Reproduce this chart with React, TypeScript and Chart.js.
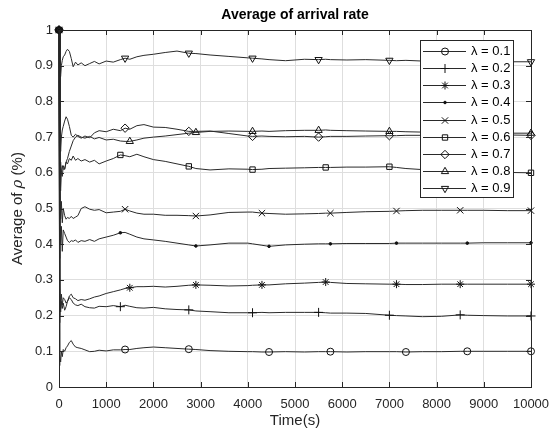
import React, { useEffect, useRef } from 'react';
import { Chart, registerables } from 'chart.js';
import { drawPoint } from 'chart.js/helpers';

Chart.register(...registerables);

// ---------------- data ----------------
const times = [0, 10, 20, 35, 50, 70, 90, 120, 150, 180, 220, 260, 300, 350, 400, 470, 550, 650, 750, 850,
  1000, 1150, 1300, 1400, 1500, 1650, 1800, 2000, 2250, 2500, 2750, 2900, 3200, 3600, 4000, 4100, 4300, 4450, 4800, 5200,
  5500, 5650, 5750, 6100, 6500, 7000, 7150, 7350, 7700, 8100, 8500, 8650, 9000, 9500, 10000];

const v01 = [1.0, 0.06, 0.09, 0.07, 0.10, 0.085, 0.105, 0.10, 0.11, 0.115, 0.125, 0.13, 0.12, 0.112, 0.11, 0.108, 0.104, 0.099, 0.10, 0.103,
  0.101, 0.104, 0.104, 0.105, 0.105, 0.108, 0.110, 0.112, 0.110, 0.108, 0.106, 0.105, 0.102, 0.100, 0.099, 0.099, 0.098, 0.098, 0.099, 0.098,
  0.099, 0.099, 0.099, 0.098, 0.099, 0.099, 0.099, 0.098, 0.099, 0.099, 0.100, 0.100, 0.100, 0.100, 0.100];
const v02 = [1.0, 0.18, 0.25, 0.21, 0.24, 0.22, 0.235, 0.215, 0.225, 0.24, 0.25, 0.245, 0.235, 0.23, 0.228, 0.232, 0.225, 0.222, 0.221, 0.226,
  0.225, 0.228, 0.225, 0.229, 0.226, 0.222, 0.221, 0.223, 0.219, 0.217, 0.216, 0.213, 0.211, 0.208, 0.208, 0.208, 0.209, 0.208, 0.209, 0.209,
  0.209, 0.208, 0.207, 0.207, 0.206, 0.201, 0.200, 0.199, 0.197, 0.198, 0.202, 0.201, 0.200, 0.199, 0.199];
const v03 = [1.0, 0.20, 0.28, 0.22, 0.26, 0.23, 0.25, 0.245, 0.235, 0.24, 0.255, 0.26, 0.25, 0.247, 0.242, 0.245, 0.243, 0.247, 0.252, 0.255,
  0.262, 0.267, 0.272, 0.276, 0.278, 0.281, 0.281, 0.282, 0.280, 0.282, 0.285, 0.286, 0.285, 0.283, 0.284, 0.285, 0.286, 0.286, 0.289, 0.291,
  0.293, 0.294, 0.293, 0.290, 0.289, 0.288, 0.288, 0.287, 0.287, 0.288, 0.288, 0.288, 0.288, 0.288, 0.288];
const v04 = [1.0, 0.36, 0.47, 0.40, 0.45, 0.38, 0.44, 0.43, 0.42, 0.41, 0.405, 0.41, 0.408, 0.412, 0.405, 0.41, 0.408, 0.413, 0.408, 0.415,
  0.42, 0.425, 0.432, 0.433, 0.428, 0.42, 0.415, 0.412, 0.408, 0.403, 0.398, 0.395, 0.398, 0.403, 0.403, 0.401, 0.397, 0.394, 0.398, 0.400,
  0.401, 0.401, 0.401, 0.402, 0.402, 0.402, 0.403, 0.403, 0.403, 0.403, 0.403, 0.403, 0.404, 0.404, 0.404];
const v05 = [1.0, 0.42, 0.55, 0.47, 0.52, 0.46, 0.50, 0.48, 0.47, 0.475, 0.472, 0.478, 0.472, 0.476, 0.48, 0.50, 0.505, 0.498, 0.495, 0.497,
  0.488, 0.49, 0.492, 0.498, 0.493, 0.487, 0.484, 0.484, 0.481, 0.481, 0.480, 0.479, 0.482, 0.489, 0.490, 0.490, 0.487, 0.486, 0.484, 0.485,
  0.486, 0.487, 0.487, 0.489, 0.491, 0.492, 0.493, 0.494, 0.495, 0.495, 0.495, 0.495, 0.495, 0.494, 0.494];
const v06 = [1.0, 0.52, 0.58, 0.55, 0.60, 0.59, 0.62, 0.61, 0.63, 0.625, 0.64, 0.635, 0.647, 0.635, 0.64, 0.633, 0.637, 0.63, 0.635, 0.625,
  0.633, 0.64, 0.65, 0.648, 0.645, 0.652, 0.645, 0.637, 0.632, 0.625, 0.618, 0.612, 0.608, 0.611, 0.610, 0.609, 0.610, 0.612, 0.613, 0.614,
  0.615, 0.615, 0.615, 0.616, 0.616, 0.617, 0.615, 0.612, 0.609, 0.606, 0.604, 0.603, 0.602, 0.601, 0.600];
const v07 = [1.0, 0.68, 0.72, 0.66, 0.70, 0.72, 0.73, 0.745, 0.757, 0.75, 0.73, 0.705, 0.70, 0.708, 0.702, 0.697, 0.703, 0.698, 0.712, 0.718,
  0.715, 0.722, 0.718, 0.725, 0.722, 0.732, 0.735, 0.728, 0.727, 0.722, 0.716, 0.716, 0.717, 0.710, 0.703, 0.702, 0.703, 0.702, 0.701, 0.702,
  0.700, 0.701, 0.702, 0.702, 0.703, 0.704, 0.704, 0.705, 0.705, 0.706, 0.706, 0.705, 0.706, 0.706, 0.705];
const v08 = [1.0, 0.62, 0.58, 0.63, 0.60, 0.62, 0.61, 0.61, 0.63, 0.64, 0.66, 0.675, 0.69, 0.70, 0.705, 0.70, 0.697, 0.702, 0.695, 0.699,
  0.692, 0.694, 0.689, 0.688, 0.688, 0.692, 0.697, 0.700, 0.703, 0.707, 0.711, 0.713, 0.716, 0.717, 0.716, 0.716, 0.717, 0.716, 0.718, 0.719,
  0.719, 0.720, 0.719, 0.718, 0.717, 0.716, 0.716, 0.715, 0.714, 0.713, 0.712, 0.712, 0.712, 0.711, 0.711];
const v09 = [1.0, 0.86, 0.89, 0.87, 0.90, 0.915, 0.925, 0.93, 0.94, 0.946, 0.94, 0.92, 0.897, 0.91, 0.902, 0.908, 0.900, 0.906, 0.912, 0.905,
  0.913, 0.910, 0.917, 0.921, 0.918, 0.925, 0.929, 0.932, 0.937, 0.941, 0.935, 0.934, 0.930, 0.926, 0.922, 0.921, 0.919, 0.917, 0.914, 0.918,
  0.917, 0.918, 0.917, 0.916, 0.917, 0.915, 0.914, 0.915, 0.913, 0.913, 0.912, 0.912, 0.912, 0.911, 0.911];

// indices of samples that carry a marker
const m01 = [0, 23, 30, 37, 42, 47, 51, 54];
const m02 = [0, 22, 30, 35, 40, 45, 50, 54];
const m03 = [0, 24, 31, 36, 41, 46, 50, 54];
const m04 = [0, 22, 31, 37, 42, 46, 51, 54];
const m05 = [0, 23, 31, 36, 42, 46, 50, 54];
const m06 = [0, 22, 30, 35, 41, 45, 50, 54];
const m07 = [0, 23, 30, 35, 40, 45, 50, 54];
const m08 = [0, 24, 31, 35, 40, 45, 50, 54];
const m09 = [0, 23, 30, 35, 40, 45, 50, 54];

const seriesLabels = ['λ = 0.1', 'λ = 0.2', 'λ = 0.3', 'λ = 0.4', 'λ = 0.5', 'λ = 0.6', 'λ = 0.7', 'λ = 0.8', 'λ = 0.9'];
const xTickLabels = ['0', '1000', '2000', '3000', '4000', '5000', '6000', '7000', '8000', '9000', '10000'];
const yTickLabels = ['0', '0.1', '0.2', '0.3', '0.4', '0.5', '0.6', '0.7', '0.8', '0.9', '1'];
const titleText = 'Average of arrival rate';
const xTitleText = 'Time(s)';
const yTitleParts = ['Average of ', 'ρ', ' (%)'];

// ---------------- styles ----------------
const FONT = "'Liberation Sans', Arial, Helvetica, sans-serif";
const LINE = '#2a2a2a';
const AXIS = '#262626';
const markerStyles = [
  { pointStyle: 'circle', radius: 3.5, fill: false, rotation: 0 },
  { pointStyle: 'cross', radius: 4.5, fill: false, rotation: 0 },
  { pointStyle: 'star', radius: 4, fill: false, rotation: 0 },
  { pointStyle: 'circle', radius: 1.3, fill: true, rotation: 0 },
  { pointStyle: 'crossRot', radius: 4.5, fill: false, rotation: 0 },
  { pointStyle: 'rect', radius: 3.8, fill: false, rotation: 0 },
  { pointStyle: 'rectRot', radius: 4.2, fill: false, rotation: 0 },
  { pointStyle: 'triangle', radius: 4.2, fill: false, rotation: 0 },
  { pointStyle: 'triangle', radius: 4.2, fill: false, rotation: 180 },
];

const allValues = [v01, v02, v03, v04, v05, v06, v07, v08, v09];
const allMarkers = [m01, m02, m03, m04, m05, m06, m07, m08, m09];

const decorPlugin = {
  id: 'decor',
  afterDatasetsDraw(chart: any) {
    const { ctx, chartArea } = chart;
    const { left, right, top, bottom } = chartArea;
    const xs = chart.scales.x;
    const ys = chart.scales.y;
    ctx.save();
    // inner ticks
    ctx.strokeStyle = AXIS;
    ctx.lineWidth = 1;
    ctx.beginPath();
    xs.ticks.forEach((t: any) => {
      const px = Math.round(xs.getPixelForValue(t.value)) + 0.5;
      ctx.moveTo(px, bottom);
      ctx.lineTo(px, bottom - 5);
      ctx.moveTo(px, top);
      ctx.lineTo(px, top + 5);
    });
    ys.ticks.forEach((t: any) => {
      const py = Math.round(ys.getPixelForValue(t.value)) + 0.5;
      ctx.moveTo(left, py);
      ctx.lineTo(left + 5, py);
      ctx.moveTo(right, py);
      ctx.lineTo(right - 5, py);
    });
    ctx.stroke();
    // box
    ctx.strokeRect(Math.round(left) + 0.5, Math.round(top) + 0.5, Math.round(right - left), Math.round(bottom - top));

    // title
    ctx.fillStyle = '#000';
    ctx.textAlign = 'center';
    ctx.textBaseline = 'middle';
    ctx.font = `bold 14px ${FONT}`;
    ctx.fillText(titleText, (left + right) / 2, 15);

    // x title
    ctx.fillStyle = AXIS;
    ctx.font = `15px ${FONT}`;
    ctx.fillText(xTitleText, (left + right) / 2, 421);

    // y title (with italic rho)
    ctx.save();
    ctx.translate(18, (top + bottom) / 2);
    ctx.rotate(-Math.PI / 2);
    const fonts = [`15px ${FONT}`, `italic 15px 'DejaVu Serif', 'Liberation Serif', serif`, `15px ${FONT}`];
    const widths = yTitleParts.map((p, i) => { ctx.font = fonts[i]; return ctx.measureText(p).width; });
    const total = widths.reduce((a, b) => a + b, 0);
    let cx = -total / 2;
    ctx.textAlign = 'left';
    yTitleParts.forEach((p, i) => {
      ctx.font = fonts[i];
      ctx.fillText(p, cx, 0);
      cx += widths[i];
    });
    ctx.restore();

    // legend
    const lx = 420, ly = 40, lw = 93, lh = 157;
    ctx.fillStyle = '#fff';
    ctx.fillRect(lx, ly, lw, lh);
    ctx.strokeStyle = AXIS;
    ctx.lineWidth = 1;
    ctx.strokeRect(lx + 0.5, ly + 0.5, lw, lh);
    seriesLabels.forEach((lab, i) => {
      const cy = Math.round(50.7 + i * 17.2) + 0.5;
      ctx.strokeStyle = LINE;
      ctx.lineWidth = 1;
      ctx.beginPath();
      ctx.moveTo(423, cy);
      ctx.lineTo(466, cy);
      ctx.stroke();
      const st = markerStyles[i];
      ctx.strokeStyle = '#111';
      ctx.fillStyle = st.fill ? '#111' : 'rgba(0,0,0,0)';
      drawPoint(ctx, { pointStyle: st.pointStyle, rotation: st.rotation, radius: st.radius, borderWidth: 1 } as any, 445, cy);
      ctx.fillStyle = '#000';
      ctx.font = `13px ${FONT}`;
      ctx.textAlign = 'left';
      ctx.textBaseline = 'middle';
      ctx.fillText(lab, 471, cy);
    });
    ctx.restore();
  },
};

export default function App() {
  const ref = useRef<HTMLCanvasElement | null>(null);
  useEffect(() => {
    document.body.style.margin = '0';
    const canvas = ref.current;
    if (!canvas) return;
    const chart = new Chart(canvas, {
      type: 'line',
      data: {
        datasets: allValues.map((vals, s) => ({
          label: seriesLabels[s],
          data: times.map((t, i) => ({ x: t, y: vals[i] })),
          borderColor: LINE,
          borderWidth: 1,
          pointStyle: markerStyles[s].pointStyle as any,
          pointRotation: markerStyles[s].rotation,
          pointRadius: times.map((_, i) => (allMarkers[s].includes(i) ? markerStyles[s].radius : 0)),
          pointHoverRadius: 0,
          pointBorderColor: '#111',
          pointBackgroundColor: markerStyles[s].fill ? '#111' : 'rgba(0,0,0,0)',
          pointBorderWidth: 1,
          tension: 0,
          clip: false as any,
        })),
      },
      options: {
        responsive: false,
        animation: false,
        events: [],
        layout: { padding: { left: 0, right: 19, top: 30, bottom: 0 } },
        plugins: { legend: { display: false }, title: { display: false }, tooltip: { enabled: false } },
        scales: {
          x: {
            type: 'linear',
            min: 0,
            max: 10000,
            grid: { color: '#dedede', drawTicks: false },
            border: { display: false },
            ticks: {
              stepSize: 1000,
              autoSkip: false,
              maxRotation: 0,
              padding: 10,
              color: AXIS,
              font: { family: FONT, size: 13 },
              callback: (_v: any, i: number) => xTickLabels[i],
            },
            afterFit: (s: any) => { s.height = 45; s.paddingLeft = 0; s.paddingRight = 0; },
          },
          y: {
            type: 'linear',
            min: 0,
            max: 1,
            grid: { color: '#dedede', drawTicks: false },
            border: { display: false },
            ticks: {
              stepSize: 0.1,
              autoSkip: false,
              padding: 6,
              color: AXIS,
              font: { family: FONT, size: 13 },
              callback: (_v: any, i: number) => yTickLabels[i],
            },
            afterFit: (s: any) => { s.width = 59; s.paddingTop = 0; s.paddingBottom = 0; },
          },
        },
      },
      plugins: [decorPlugin],
    });
    return () => chart.destroy();
  }, []);
  return (
    <div style={{ width: 550, height: 432, background: '#fff' }}>
      <canvas ref={ref} width={550} height={432} />
    </div>
  );
}
